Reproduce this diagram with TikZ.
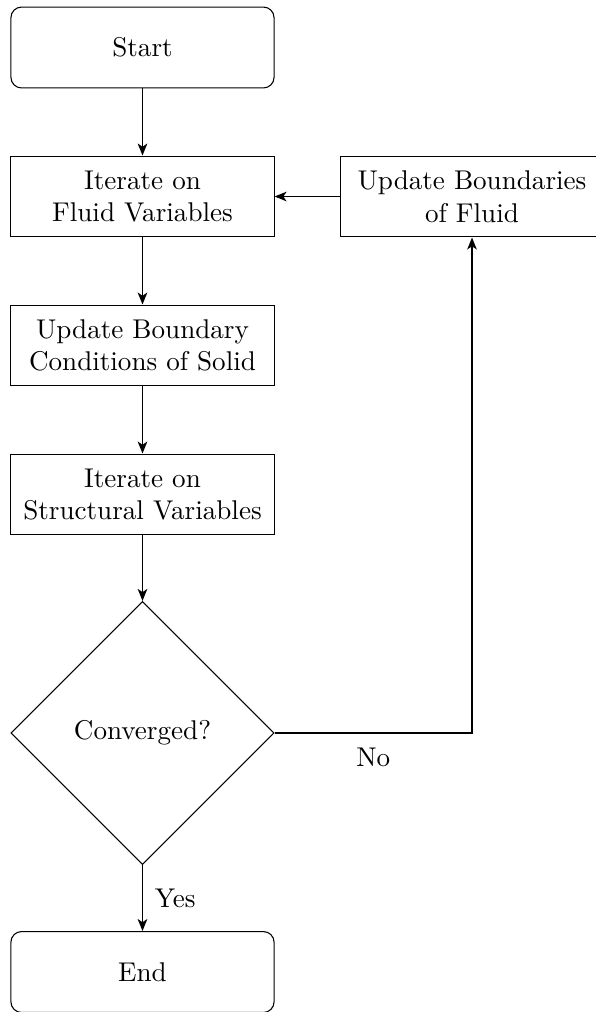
\documentclass[tikz,border=0pt]{standalone}
\usetikzlibrary{shapes.geometric,arrows.meta}
\begin{document}
\begin{tikzpicture}[x=0.377pt,y=-0.377pt,
  every node/.style={font=\fontsize{10.22}{12.3}\selectfont},
  box/.style={draw,line width=0.4pt,minimum width=99.2pt,minimum height=30.5pt,align=center,inner sep=2pt},
  term/.style={box,rounded corners=4pt},
  decision/.style={draw,line width=0.4pt,shape=diamond,aspect=1,minimum width=99.2pt,minimum height=99.2pt,inner sep=0pt,align=center},
  flow/.style={line width=0.65pt,-{Stealth[length=4.5pt,width=3.6pt,inset=1.2pt]}}]
\useasboundingbox (0,0) rectangle (595,1012);
\node[term] (start) at (142.5,47.5) {Start};
\node[box] (fluid) at (142.5,196.5) {Iterate on\\Fluid Variables};
\node[box] (ubf) at (472,196.5) {Update Boundaries\\of Fluid};
\node[box] (bc) at (142.5,345.5) {Update Boundary\\Conditions of Solid};
\node[box] (struct) at (142.5,494.5) {Iterate on\\Structural Variables};
\node[decision] (conv) at (142.5,733) {Converged?};
\node[term] (end) at (142.5,972) {End};
\draw[flow] (start) -- (fluid);
\draw[flow] (fluid) -- (bc);
\draw[flow] (bc) -- (struct);
\draw[flow] (struct) -- (conv);
\draw[flow] (conv) -- node[right,xshift=1pt] {Yes} (end);
\draw[flow] (conv.east) -- node[below,yshift=-2pt] {No} (conv.east -| ubf.south) -- (ubf.south);
\draw[flow] (ubf) -- (fluid);
\end{tikzpicture}
\end{document}
